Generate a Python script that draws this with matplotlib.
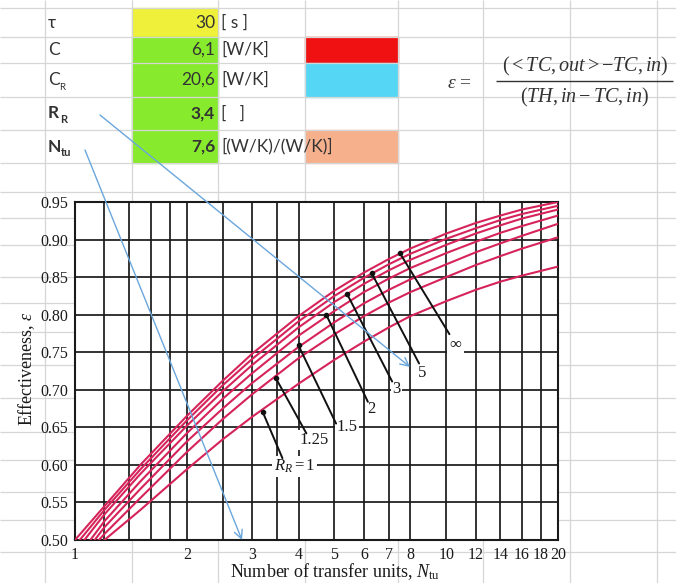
import matplotlib
matplotlib.use("Agg")
import matplotlib.pyplot as plt
from matplotlib.patches import Rectangle
from matplotlib.ticker import FixedLocator, NullFormatter

plt.rcParams['mathtext.fontset'] = 'custom'
plt.rcParams['mathtext.rm'] = 'Liberation Serif'
plt.rcParams['mathtext.it'] = 'Liberation Serif:italic'
plt.rcParams['mathtext.bf'] = 'Liberation Serif:bold'

# spreadsheet values
sheet_values = ['30', '6,1', '20,6', '3,4', '7,6']
sheet_units = ['[ s ]', '[W/K]', '[W/K]', '[   ]', '[(W/K)/(W/K)]']

# effectiveness curves (NTU, epsilon)
ntu_grid = [1.2, 1.5, 2, 2.5, 3, 4, 5, 6, 7, 8, 10, 12, 14, 16, 20]
rr_labels = ['$R_R = 1$', '1.25', '1.5', '2', '3', '5', r'$\infty$']
start_ntu = [1.2, 1.16, 1.13, 1.1, 1.06, 1.03, 1.0]
eff_rr1 = [0.500, 0.540, 0.594, 0.634, 0.664, 0.708, 0.740, 0.764, 0.783, 0.798, 0.818, 0.833, 0.844, 0.852, 0.864]
eff_rr125 = [0.508, 0.556, 0.617, 0.661, 0.694, 0.742, 0.774, 0.798, 0.816, 0.830, 0.850, 0.866, 0.878, 0.888, 0.903]
eff_rr15 = [0.517, 0.568, 0.631, 0.675, 0.709, 0.757, 0.790, 0.815, 0.833, 0.847, 0.867, 0.883, 0.895, 0.905, 0.921]
eff_rr2 = [0.525, 0.578, 0.642, 0.688, 0.722, 0.772, 0.805, 0.830, 0.848, 0.862, 0.882, 0.897, 0.909, 0.918, 0.932]
eff_rr3 = [0.534, 0.588, 0.652, 0.698, 0.733, 0.783, 0.817, 0.841, 0.859, 0.873, 0.893, 0.908, 0.919, 0.928, 0.940]
eff_rr5 = [0.540, 0.594, 0.659, 0.706, 0.741, 0.791, 0.825, 0.849, 0.867, 0.881, 0.901, 0.915, 0.926, 0.934, 0.945]
eff_inf = [0.545, 0.600, 0.665, 0.712, 0.748, 0.798, 0.832, 0.856, 0.874, 0.888, 0.908, 0.922, 0.932, 0.940, 0.950]
curves = [eff_rr1, eff_rr125, eff_rr15, eff_rr2, eff_rr3, eff_rr5, eff_inf]

# pointer tips, pointer ends and label spots (data coords)
tip_x = [3.2, 3.47, 4.0, 4.75, 5.4, 6.3, 7.5]
tip_y = [0.671, 0.716, 0.759, 0.800, 0.828, 0.855, 0.882]
end_x = [3.62, 4.2, 5.05, 6.15, 7.15, 8.45, 10.2]
end_y = [0.609, 0.642, 0.655, 0.684, 0.711, 0.735, 0.774]
lab_x = [3.9, 4.4, 5.4, 6.3, 7.35, 8.6, 10.6]
lab_y = [0.598, 0.633, 0.650, 0.675, 0.701, 0.723, 0.762]

major_x = [1, 2, 3, 4, 5, 6, 7, 8, 10, 12, 14, 16, 18, 20]
minor_x = [1.2, 1.4, 1.6, 1.8, 2.5, 3.5]
y_ticks = [0.50, 0.55, 0.60, 0.65, 0.70, 0.75, 0.80, 0.85, 0.90, 0.95]

W, H = 676, 583
fig = plt.figure(figsize=(W / 100, H / 100), dpi=100)

# ---- spreadsheet background ----
bg = fig.add_axes([0, 0, 1, 1])
bg.set_xlim(0, W)
bg.set_ylim(H, 0)
bg.axis('off')
rows = [8, 37, 63, 97, 130, 163, 192, 218, 245, 277, 303, 332, 365, 398, 432, 460, 492, 520, 552]
cols = [45, 132, 218, 305, 398, 483, 570, 657]
bg.hlines(rows, 0, W, color='#d6d6d6', lw=0.9)
bg.vlines(cols, 0, H, color='#d6d6d6', lw=0.9)

bg.add_patch(Rectangle((132, 8), 86, 29, color='#eef03a'))
bg.add_patch(Rectangle((132, 37), 86, 126, color='#88ea2c'))
bg.add_patch(Rectangle((305, 37), 93, 26, color='#f01212'))
bg.add_patch(Rectangle((305, 63), 93, 34, color='#55d6f4'))
bg.add_patch(Rectangle((305, 130), 93, 33, color='#f6b08c'))
# equation object and pasted chart cover the grid
bg.add_patch(Rectangle((445, 40), 231, 86, color='white'))
bg.add_patch(Rectangle((15, 166), 563, 417, color='white'))

row_y = [22.5, 50, 80, 113.5, 146.5]
ink = '#333333'
sf = dict(family='Lato', fontsize=12.5, color=ink, va='center')
bg.text(48, row_y[0], 'τ', **sf)
bg.text(48, row_y[1], 'C', **sf)
bg.text(48, row_y[2], 'C', **sf)
bg.text(59.5, row_y[2] + 7, 'R', family='Lato', fontsize=7, color=ink, va='center')
bg.text(48, row_y[3], 'R', fontweight='bold', **sf)
bg.text(60, row_y[3] + 6, 'R', family='Lato', fontsize=8, fontweight='bold', color=ink, va='center')
bg.text(48, row_y[4], 'N', fontweight='bold', **sf)
bg.text(61, row_y[4] + 6, 'tu', family='Lato', fontsize=8, fontweight='bold', color=ink, va='center')
for i, (v, u) in enumerate(zip(sheet_values, sheet_units)):
    wt = 'bold' if i >= 3 else 'normal'
    bg.text(215, row_y[i], v, ha='right', fontweight=wt, **sf)
    bg.text(221, row_y[i], u, ha='left', **sf)

# efficiency formula, built as a stacked fraction
bg.text(447, 82, r'$\varepsilon\,=$', fontsize=14, va='center', ha='left', color=ink)
bg.text(585, 66, r'$(<TC,out>-TC,in)$', fontsize=14.5, va='center', ha='center', color=ink)
bg.text(585, 97, r'$(TH,in-TC,in)$', fontsize=14.5, va='center', ha='center', color=ink)
bg.hlines(81, 496, 673, color=ink, lw=1.0)

# ---- the chart ----
ax = fig.add_axes([75 / W, 1 - 540 / H, (558 - 75) / W, (540 - 202) / H])
ax.set_xscale('log')
for sx, ev in zip(start_ntu, curves):
    ax.plot([sx] + ntu_grid, [0.50] + ev, color='#d6235a', lw=1.5, zorder=3)
ax.set_xlim(1, 20)
ax.set_ylim(0.50, 0.95)

ax.xaxis.set_major_locator(FixedLocator(major_x))
ax.xaxis.set_minor_locator(FixedLocator(minor_x))
ax.xaxis.set_minor_formatter(NullFormatter())
ax.set_xticklabels([str(v) for v in major_x])
ax.set_yticks(y_ticks)
ax.set_yticklabels(['%.2f' % v for v in y_ticks])
ax.grid(which='both', color='#1a1a1a', lw=1.25, zorder=1)
ax.tick_params(which='both', length=0, labelsize=11.5, colors='#1a1a1a', pad=5)
for lbl in ax.get_xticklabels() + ax.get_yticklabels():
    lbl.set_family('Liberation Serif')
for s in ax.spines.values():
    s.set_color('#1a1a1a')
    s.set_linewidth(1.5)

for lab, tx, ty, ex, ey, lx, ly in zip(rr_labels, tip_x, tip_y, end_x, end_y, lab_x, lab_y):
    ax.text(lx, ly, lab, ha='center', va='center', family='Liberation Serif',
            fontsize=12, color='#1a1a1a', zorder=4,
            bbox=dict(boxstyle='square,pad=0.1', fc='white', ec='none'))
    ax.plot([tx, ex], [ty, ey], color='#111111', lw=1.4, zorder=5,
            solid_capstyle='round')
ax.plot(tip_x, tip_y, 'o', color='#111111', ms=3, zorder=6)

fig.text(27 / W, 1 - 368 / H, r'Effectiveness, $\varepsilon$', rotation=90,
         ha='center', va='center', family='Liberation Serif', fontsize=13, color='#1a1a1a')
fig.text(335 / W, 1 - 572 / H, r'Number of transfer units, $N_{\mathrm{tu}}$',
         ha='center', va='center', family='Liberation Serif', fontsize=13, color='#1a1a1a')

# ---- excel arrows on top ----
top = fig.add_axes([0, 0, 1, 1], zorder=10)
top.set_xlim(0, W)
top.set_ylim(H, 0)
top.axis('off')
top.patch.set_alpha(0)
arrow_kw = dict(arrowstyle='->,head_length=0.6,head_width=0.3', color='#6aa6dc', lw=1.0,
                shrinkA=0, shrinkB=0)
top.annotate('', xy=(410, 367), xytext=(100, 115), arrowprops=arrow_kw)
top.annotate('', xy=(242, 540), xytext=(85, 150), arrowprops=arrow_kw)

fig.savefig('out.png', dpi=100)
